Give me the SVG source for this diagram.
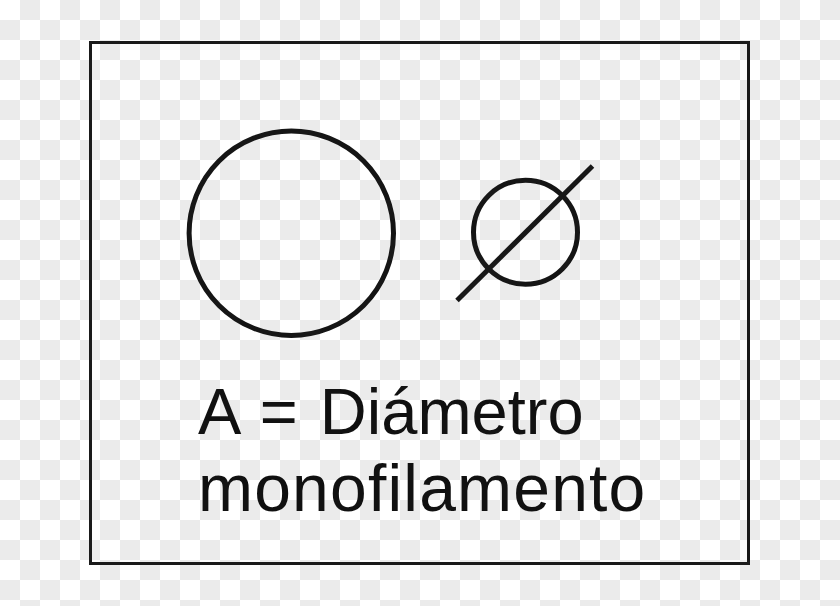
<svg xmlns="http://www.w3.org/2000/svg" width="840" height="606" viewBox="0 0 840 606">
<defs>
<pattern id="checker" x="0" y="0" width="40" height="40" patternUnits="userSpaceOnUse">
<rect width="40" height="40" fill="#ffffff"/>
<rect x="20" y="0" width="20" height="20" fill="#ebebeb"/>
<rect x="0" y="20" width="20" height="20" fill="#ebebeb"/>
</pattern>
</defs>
<style>
.ink{fill:none;stroke:#161616;stroke-width:5}
.lbl{font-family:"Liberation Sans",Arial,sans-serif;font-size:66px;fill:#111111}
</style>
<rect width="840" height="606" fill="url(#checker)"/>
<g id="frame"><rect x="90.5" y="42.5" width="658" height="521" fill="none" stroke="#1a1a1a" stroke-width="3"/></g>
<g id="big-circle"><circle class="ink" cx="291.3" cy="233.2" r="102.2"/></g>
<g id="diameter-symbol">
<circle class="ink" cx="525.5" cy="232.2" r="52"/>
<line class="ink" x1="457" y1="300.5" x2="592.5" y2="166"/>
</g>
<g id="label">
<text class="lbl" x="198" y="434" style="font-size:65px;word-spacing:4px">A = Diámetro</text>
<text class="lbl" x="198" y="510.5" style="letter-spacing:1.2px">monofilamento</text>
</g>
</svg>
